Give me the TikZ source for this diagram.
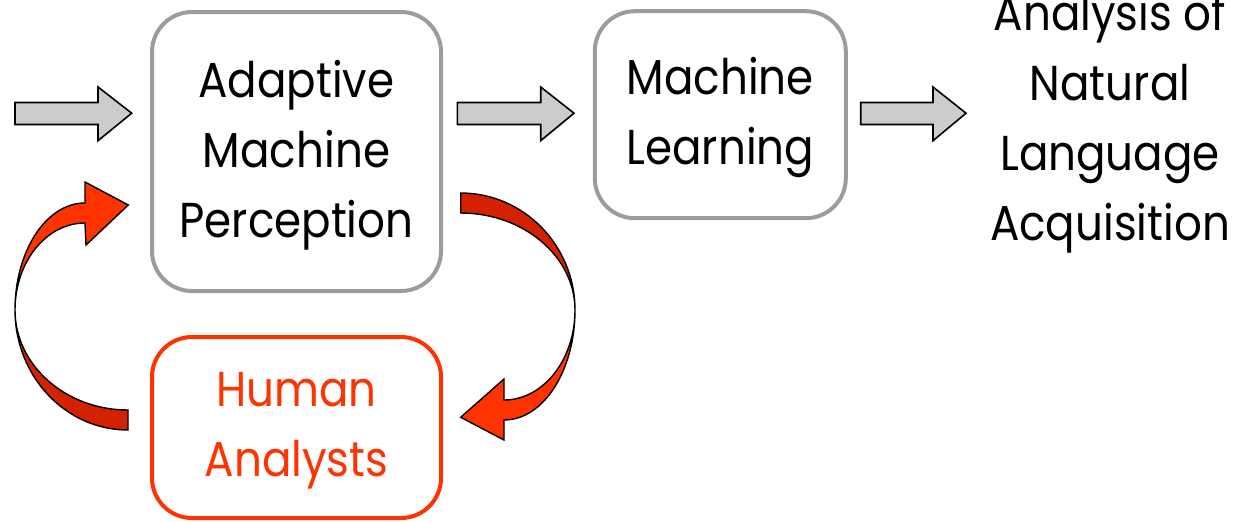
\documentclass[tikz,border=0pt]{standalone}
\usepackage{fontspec}
\setmainfont[FakeStretch=0.89]{Poppins}
\definecolor{boxgray}{HTML}{9C9C9C}
\definecolor{hred}{HTML}{FF3300}
\definecolor{dred}{HTML}{D42200}
\definecolor{arrgray}{HTML}{CCCCCC}
\begin{document}
\begin{tikzpicture}[x=1pt,y=-1pt,
  txt/.style={font=\fontsize{49}{70}\selectfont, align=center, inner sep=0pt},
  procbox/.style={draw=boxgray, line width=4pt, rounded corners=40pt, inner sep=0pt},
  humanbox/.style={draw=hred, line width=4pt, rounded corners=40pt, inner sep=0pt},
  blockarrow/.style={fill=arrgray, draw=black, line width=1.6pt, line join=miter},
  curvearrow/.style={draw=black, line width=1.4pt, line join=miter}]
\useasboundingbox (0,0) rectangle (1248,522);

\node[procbox, minimum width=289pt, minimum height=279pt,
  label={[txt, shift={(0,4)}]center:{Adaptive\\Machine\\Perception}}] (amp) at (296.5,151.5) {};
\node[procbox, minimum width=251pt, minimum height=207pt,
  label={[txt, shift={(0,3)}]center:{Machine\\Learning}}] (ml) at (720.3,114.7) {};
\node[humanbox, minimum width=289pt, minimum height=181pt,
  label={[txt, text=hred, shift={(0,3)}]center:{Human\\Analysts}}] (ha) at (296.5,427.5) {};
\node[txt] (nla) at (1110,123) {Analysis of\\Natural\\Language\\Acquisition};

% gray block arrows
\draw[blockarrow] (15,102.5) -- (98,102.5) -- (98,87) -- (131.7,113.2) -- (98,140.7) -- (98,124.5) -- (15,124.5) -- cycle;
\draw[blockarrow] (457.3,102.5) -- (540.7,102.5) -- (540.7,87) -- (574,113.2) -- (540.7,140.7) -- (540.7,124.5) -- (457.3,124.5) -- cycle;
\draw[blockarrow] (860.7,102.5) -- (933,102.5) -- (933,87) -- (966,113.2) -- (933,140.7) -- (933,124.5) -- (860.7,124.5) -- cycle;

% left curved arrow (human analysts -> adaptive machine perception)
\draw[curvearrow, fill=dred] (15,310) .. controls (15,376.3) and (65.6,430) .. (128,430)
  -- (128,410) .. controls (65.6,410) and (15,365.2) .. (15,310) -- cycle;
\draw[curvearrow, fill=hred] (15,310) .. controls (15,250.9) and (46.3,203) .. (85,203)
  -- (85,182) -- (128.3,205) -- (86,245) -- (85,223)
  .. controls (46.3,223) and (15,262) .. (15,310) -- cycle;

% right curved arrow (adaptive machine perception -> human analysts)
\draw[curvearrow, fill=dred] (460.7,193) .. controls (523.5,193) and (575,245.4) .. (575,310)
  .. controls (575,256.4) and (523.5,213) .. (460.7,213) -- cycle;
\draw[curvearrow, fill=hred] (575,310) .. controls (575,370.8) and (543.2,420) .. (504,420)
  -- (504,440) -- (460.7,417.3) -- (504,379) -- (504,400)
  .. controls (543.2,400) and (575,359.7) .. (575,310) -- cycle;
\end{tikzpicture}
\end{document}
